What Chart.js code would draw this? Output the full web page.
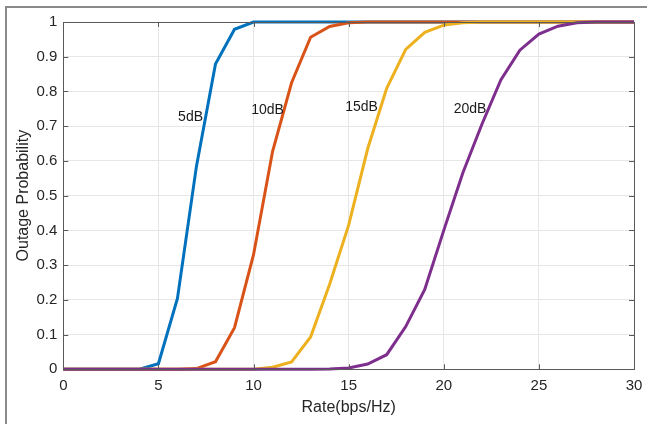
<!DOCTYPE html>
<html>
<head>
<meta charset="utf-8">
<title>Outage Probability</title>
<script src="https://cdn.jsdelivr.net/npm/chart.js@4.4.1/dist/chart.umd.min.js"></script>
<style>
    html, body { margin: 0; padding: 0; background: #ffffff; }
    #wrap { position: relative; width: 647px; height: 424px; }
    canvas { display: block; }
</style>
</head>
<body>
<div id="wrap"><canvas id="chartOutage" width="647" height="424"></canvas></div>
<script>
// Datos (probabilidad de outage vs. tasa)
const rate = [0, 1, 2, 3, 4, 5, 6, 7, 8, 9, 10, 11, 12, 13, 14, 15, 16, 17, 18, 19, 20, 21, 22, 23, 24, 25, 26, 27, 28, 29, 30];

const snr5 = [0, 0, 0, 0, 0, 0.016, 0.204, 0.585, 0.879, 0.979, 1, 1, 1, 1, 1, 1, 1, 1, 1, 1, 1, 1, 1, 1, 1, 1, 1, 1, 1, 1, 1];
const snr10 = [0, 0, 0, 0, 0, 0, 0, 0.002, 0.022, 0.12, 0.33, 0.627, 0.825, 0.956, 0.987, 0.998, 1, 1, 1, 1, 1, 1, 1, 1, 1, 1, 1, 1, 1, 1, 1];
const snr15 = [0, 0, 0, 0, 0, 0, 0, 0, 0, 0, 0, 0.006, 0.021, 0.093, 0.245, 0.415, 0.635, 0.809, 0.921, 0.970, 0.991, 0.998, 1, 1, 1, 1, 1, 1, 1, 1, 1];
const snr20 = [0, 0, 0, 0, 0, 0, 0, 0, 0, 0, 0, 0, 0, 0, 0.001, 0.004, 0.015, 0.042, 0.123, 0.230, 0.400, 0.565, 0.705, 0.833, 0.919, 0.965, 0.988, 0.998, 1, 1, 1];

const seriesNames = ["5dB", "10dB", "15dB", "20dB"];
// Posición de cada etiqueta en coordenadas de datos (x, y)
const labelX = [6.69, 10.74, 15.68, 21.38];
const labelY = [0.726, 0.745, 0.755, 0.749];

const colors = ["#0072BD", "#D95319", "#EDB120", "#7E2F8E"];
const FONT = "'Liberation Sans', Arial, sans-serif";

/**
 * Dibuja el marco de la imagen, la caja del eje con marcas hacia adentro
 * y las etiquetas de cada curva.
 */
const boxPlugin = {
    id: "boxPlugin",
    beforeDraw(chart) {
        const ctx = chart.ctx;
        ctx.save();
        ctx.fillStyle = "#ffffff";
        ctx.fillRect(0, 0, chart.width, chart.height);
        // marco exterior de la figura
        ctx.strokeStyle = "#8a8a8a";
        ctx.lineWidth = 2;
        ctx.beginPath();
        ctx.moveTo(6, chart.height);
        ctx.lineTo(6, 7);
        ctx.lineTo(chart.width, 7);
        ctx.stroke();
        ctx.restore();
    },
    afterDatasetsDraw(chart) {
        const ctx = chart.ctx;
        const { left, right, top, bottom } = chart.chartArea;
        const xs = chart.scales.x;
        const ys = chart.scales.y;
        ctx.save();
        ctx.strokeStyle = "#5a5a5a";
        ctx.lineWidth = 1;
        ctx.strokeRect(Math.round(left) + 0.5, Math.round(top) + 0.5,
            Math.round(right - left), Math.round(bottom - top));

        // marcas hacia adentro en los cuatro lados
        const tick = 5;
        ctx.beginPath();
        xs.ticks.forEach(t => {
            const px = Math.round(xs.getPixelForValue(t.value)) + 0.5;
            ctx.moveTo(px, bottom); ctx.lineTo(px, bottom - tick);
            ctx.moveTo(px, top); ctx.lineTo(px, top + tick);
        });
        ys.ticks.forEach(t => {
            const py = Math.round(ys.getPixelForValue(t.value)) + 0.5;
            ctx.moveTo(left, py); ctx.lineTo(left + tick, py);
            ctx.moveTo(right, py); ctx.lineTo(right - tick, py);
        });
        ctx.stroke();

        // etiquetas de las curvas
        ctx.fillStyle = "#1a1a1a";
        ctx.font = "14px " + FONT;
        ctx.textAlign = "center";
        ctx.textBaseline = "middle";
        seriesNames.forEach((name, i) => {
            ctx.fillText(name, xs.getPixelForValue(labelX[i]), ys.getPixelForValue(labelY[i]));
        });
        ctx.restore();
    }
};

function makeDataset(label, values, color, order) {
    return {
        label: label,
        data: rate.map((r, i) => ({ x: r, y: values[i] })),
        borderColor: color,
        backgroundColor: color,
        borderWidth: 3,
        pointRadius: 0,
        tension: 0,
        clip: 4,
        order: order
    };
}

function initOutageChart() {
    const canvas = document.getElementById("chartOutage");

    new Chart(canvas, {
        type: "line",
        data: {
            datasets: [
                makeDataset(seriesNames[0], snr5, colors[0], 3),
                makeDataset(seriesNames[1], snr10, colors[1], 2),
                makeDataset(seriesNames[2], snr15, colors[2], 1),
                makeDataset(seriesNames[3], snr20, colors[3], 0)
            ]
        },
        options: {
            responsive: false,
            animation: false,
            layout: { padding: { top: 22, right: 13, left: 14, bottom: 0 } },
            plugins: {
                legend: { display: false },
                tooltip: { enabled: false }
            },
            scales: {
                x: {
                    type: "linear",
                    min: 0,
                    max: 30,
                    // altura fija y sin margen extra por la última etiqueta
                    afterFit: s => { s.height = 54.7; s.paddingRight = 0; s.paddingLeft = 0; },
                    ticks: {
                        stepSize: 5,
                        color: "#262626",
                        padding: 8,
                        maxRotation: 0,
                        font: { family: FONT, size: 15 }
                    },
                    grid: { color: "#e6e6e6", drawTicks: false },
                    border: { display: false },
                    title: {
                        display: true,
                        text: "Rate(bps/Hz)",
                        color: "#262626",
                        padding: { top: 0, bottom: 7 },
                        font: { family: FONT, size: 16 }
                    }
                },
                y: {
                    min: 0,
                    max: 1,
                    afterFit: s => { s.width = 49.3; },
                    ticks: {
                        stepSize: 0.1,
                        color: "#262626",
                        padding: 6,
                        font: { family: FONT, size: 15 },
                        callback: v => String(+v.toFixed(1))
                    },
                    grid: { color: "#e6e6e6", drawTicks: false },
                    border: { display: false },
                    title: {
                        display: true,
                        text: "Outage Probability",
                        color: "#262626",
                        padding: { top: 0, bottom: 0 },
                        font: { family: FONT, size: 16 }
                    }
                }
            }
        },
        plugins: [boxPlugin]
    });
}

document.addEventListener("DOMContentLoaded", initOutageChart);
</script>
</body>
</html>
